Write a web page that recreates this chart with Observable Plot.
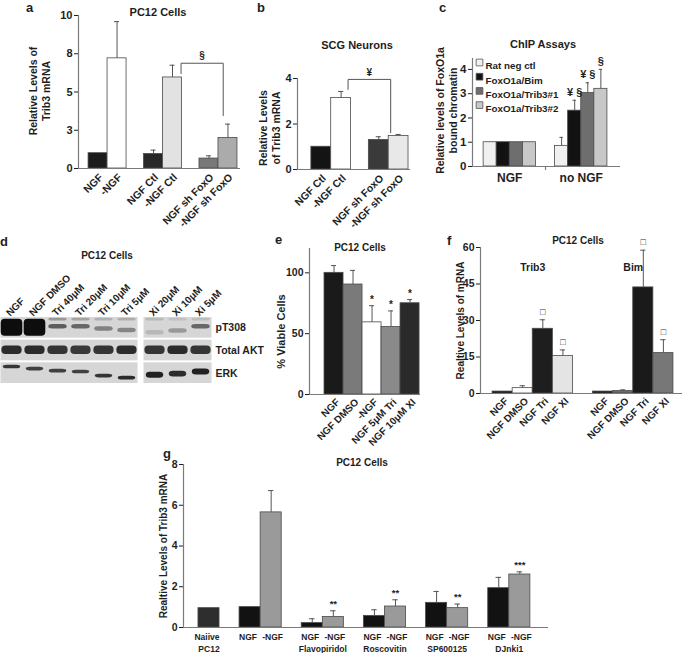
<!DOCTYPE html>
<html><head><meta charset="utf-8">
<script src="https://cdn.jsdelivr.net/npm/d3@7"></script>
<script src="https://cdn.jsdelivr.net/npm/@observablehq/plot@0.6"></script>
<style>
body{margin:0;background:#fff;}
#fig{position:relative;width:685px;height:653px;overflow:hidden;background:#fff;font-family:"Liberation Sans",Arial,sans-serif;font-weight:bold;color:#1e1e1e;}
.panel{position:absolute;}
.lab{position:absolute;white-space:nowrap;transform:translate(-50%,-50%);line-height:1;}
.letter{position:absolute;font-size:13px;line-height:normal;}
</style></head><body><div id="fig"></div>
<script>
// ---------- DATA ----------
// a
const aCategories = ["NGF","-NGF","NGF Ctl","-NGF Ctl","NGF sh FoxO","-NGF sh FoxO"];
const aGroups = [0,0,1,1,2,2];
const aValues = [1.0,7.2,0.95,5.95,0.65,2.0];
const aErrTop = [null,9.6,1.2,6.75,0.83,2.9];
const aTicks = [0,2.5,5,7.5,10];
const aColors = ["#1c1c1c","#ffffff","#282828","#e2e2e2","#787878","#ababab"];
// b
const bCategories = ["NGF Ctl","-NGF Ctl","NGF sh FoxO","-NGF sh FoxO"];
const bGroups = [0,0,1,1];
const bValues = [1.0,3.14,1.3,1.47];
const bErrTop = [null,3.43,1.44,1.54];
const bTicks = [0,2,4];
const bColors = ["#141414","#ffffff","#3a3a3a","#e8e8e8"];
// c
const cSeries = ["Rat neg ctl","FoxO1a/Bim","FoxO1a/Trib3#1","FoxO1a/Trib3#2"];
const cConditions = ["NGF","no NGF"];
const cValuesNGF = [1,1,1,1];
const cValuesNoNGF = [0.85,2.3,3.03,3.2];
const cErrTopNoNGF = [1.2,2.73,3.45,4.0];
const cNotesNoNGF = ["","¥ §","¥ §","§"];
const cTicks = [0,1,2,3,4];
const cColors = ["#f0f0f0","#121212","#6e6e6e","#c8c8c8"];
// d (western blot)
const dLanes = ["NGF","NGF DMSO","Tri 40μM","Tri 20μM","Tri 10μM","Tri 5μM","Xi 20μM","Xi 10μM","Xi 5μM"];
const dBlock = [0,0,0,0,0,0,1,1,1];
const dRows = ["pT308","Total AKT","ERK"];
const dPT308 = [1.0,1.0,0.6,0.55,0.42,0.4,0.15,0.3,0.55];
const dPT308Pos = [0.5,0.5,0.45,0.45,0.55,0.62,0.72,0.64,0.45];
const dPT308Upper = [0,0,0.3,0.25,0.18,0.2,0.14,0.1,0.12];
const dAKT = [0.85,0.85,0.8,0.78,0.8,0.85,0.8,0.85,0.8];
const dERK = [0.8,0.75,0.75,0.75,0.8,0.85,0.9,0.85,0.9];
const dERKPos = [0.23,0.32,0.41,0.45,0.63,0.72,0.59,0.54,0.45];
// e
const eCategories = ["NGF","NGF DMSO","-NGF","NGF 5μM Tri","NGF 10μM XI"];
const eValues = [100,90.4,59.3,55.5,75];
const eErrTop = [106,102,73,68.7,78];
const eNotes = ["","","*","*","*"];
const eTicks = [0,50,100];
const eColors = ["#1a1a1a","#7a7a7a","#ffffff","#8a8a8a","#2a2a2a"];
// f
const fGenes = ["Trib3","Bim"];
const fCategories = ["NGF","NGF DMSO","NGF Tri","NGF XI"];
const fTrib3 = [0.8,2.2,26.6,15.4];
const fTrib3Err = [null,3.2,30.3,17.9];
const fBim = [0.8,1.0,43.6,16.6];
const fBimErr = [null,1.5,58.9,22.1];
const fNotes = ["","","□","□"];
const fTicks = [0,15,30,45,60];
const fColorsTrib3 = ["#151515","#ffffff","#1e1e1e","#e4e4e4"];
const fColorsBim = ["#151515","#6a6a6a","#1a1a1a","#777777"];
// g
const gConditions = ["Naiive","NGF","-NGF","NGF","-NGF","NGF","-NGF","NGF","-NGF","NGF","-NGF"];
const gGroupIndex = [0,1,1,2,2,3,3,4,4,5,5];
const gGroupNames = ["PC12","","Flavopiridol","Roscovitin","SP600125","DJnki1"];
const gValues = [0.95,1.0,5.65,0.22,0.52,0.57,1.03,1.21,0.95,1.93,2.6];
const gErrTop = [null,null,6.72,0.43,0.82,0.87,1.36,1.77,1.15,2.46,2.73];
const gNotes = ["","","","","**","","**","","**","","***"];
const gTicks = [0,2,4,6,8];
const gColors = ["#2e2e2e","#121212","#9a9a9a","#121212","#9a9a9a","#121212","#9a9a9a","#121212","#9a9a9a","#121212","#9a9a9a"];

// ---------- HELPERS ----------
const fig = document.getElementById("fig");
const baseStyle = {fontFamily:'"Liberation Sans", Arial, sans-serif', fontWeight:"bold", fontSize:"11px", color:"#1e1e1e", background:"transparent", overflow:"visible"};
function place(node, left, top){ const d=document.createElement("div"); d.className="panel"; d.style.left=left+"px"; d.style.top=top+"px"; d.appendChild(node); fig.appendChild(d); }
function label(text,x,y,size){ const d=document.createElement("div"); d.className="lab"; d.textContent=text; d.style.left=x+"px"; d.style.top=y+"px"; d.style.fontSize=size+"px"; fig.appendChild(d); }
function letter(t,x,y){ const d=document.createElement("div"); d.className="letter"; d.textContent=t; d.style.left=x+"px"; d.style.top=y+"px"; fig.appendChild(d); }

function barChart(o){
  const nG = Math.max(...o.groups)+1;
  const rows = o.categories.map((c,i)=>{ const x1=o.leftPad+i+o.groups[i]*o.gap; return {label:c,x1,x2:x1+1,xc:x1+0.5,value:o.values[i],err:o.errs?o.errs[i]:null,note:o.notes?o.notes[i]:null,fill:o.fills[i],group:o.groups[i]}; });
  const xMax = o.leftPad+rows.length+(nG-1)*o.gap+o.rightPad;
  const errRows = rows.filter(d=>d.err!=null);
  const noteRows = rows.filter(d=>d.note);
  const marks = [
    Plot.rect(rows,{x1:"x1",x2:"x2",y1:()=>0,y2:"value",fill:"fill",stroke:"#4a4a4a",strokeWidth:0.8}),
    Plot.ruleX(errRows,{x:"xc",y1:"value",y2:"err",stroke:"#555",strokeWidth:1}),
    Plot.ruleY(errRows,{x1:d=>d.xc-0.13,x2:d=>d.xc+0.13,y:"err",stroke:"#555",strokeWidth:1}),
    Plot.text(noteRows,{x:"xc",y:d=>d.err??d.value,text:"note",dy:o.noteDy??-6,fontSize:o.noteSize??10}),
    Plot.ruleX([0],{stroke:"#7a7a7a",strokeWidth:1.2}),
    Plot.ruleY([0],{stroke:"#7a7a7a",strokeWidth:1.2}),
    Plot.text([o.yLabel],{frameAnchor:"left",textAnchor:"middle",rotate:-90,dx:o.yLabelDx,dy:o.yLabelDy||0,fontSize:o.yLabelSize||10.5,lineHeight:1.2})
  ];
  if(o.rotateLabels) marks.push(Plot.text(rows,{x:"xc",y:()=>0,text:"label",rotate:-45,textAnchor:"end",dx:o.labelDx??3,dy:o.labelDy??7,fontSize:o.labelSize||10.5}));
  if(o.extra) marks.push(...o.extra(rows,xMax));
  const svg = Plot.plot({
    width:o.width,height:o.height,marginLeft:o.m[0],marginRight:o.m[1],marginTop:o.m[2],marginBottom:o.m[3],
    x:{domain:[0,xMax],axis:null},
    y:{domain:o.yDomain,ticks:o.yTicks,tickFormat:o.tickFormat||(d=>d),tickSize:4,tickPadding:2,label:null},
    color:{type:"identity"},
    style:Object.assign({},baseStyle,{fontSize:(o.tickSize||11)+"px"}),
    marks
  });
  place(svg,o.left,o.top);
}
function bracket(rows,br){
  const xl=rows[br.from].xc+br.fromOff, xr=rows[br.to].xc+br.toOff;
  const pts=[[xl,br.leftEnd],[xl,br.top],[xr,br.top],[xr,br.rightEnd]];
  return [Plot.line(pts,{stroke:"#555",strokeWidth:1}), Plot.text([br.symbol],{x:()=>(xl+xr)/2,y:()=>br.top,dy:-7,fontSize:10})];
}

// ---------- PANEL A ----------
barChart({left:0,top:0,width:245,height:235,m:[78,5,15,67],
  categories:aCategories,groups:aGroups,values:aValues,errs:aErrTop,fills:aColors,
  leftPad:0.53,gap:0.92,rightPad:0.16,yDomain:[0,10],yTicks:aTicks,tickFormat:d=>Math.round(d),
  yLabel:"Relative Levels of\nTrib3 mRNA",yLabelDx:-39,yLabelDy:-1,rotateLabels:true,
  extra:(rows)=>bracket(rows,{from:3,to:5,fromOff:0.45,toOff:-0.25,top:6.88,leftEnd:6.2,rightEnd:3.46,symbol:"§"})});

// ---------- PANEL B ----------
barChart({left:225,top:0,width:190,height:235,m:[72,5,78,66],
  categories:bCategories,groups:bGroups,values:bValues,errs:bErrTop,fills:bColors,
  leftPad:0.7,gap:0.9,rightPad:0.1,yDomain:[0,4],yTicks:bTicks,
  yLabel:"Relative Levels\nof Trib3 mRNA",yLabelDx:-28,yLabelDy:4,rotateLabels:true,
  extra:(rows)=>bracket(rows,{from:1,to:3,fromOff:0.35,toOff:-0.4,top:3.96,leftEnd:3.52,rightEnd:1.62,symbol:"¥"})});

// ---------- PANEL C ----------
{
  const cats=[...cSeries,...cSeries];
  const groups=[0,0,0,0,1,1,1,1];
  barChart({left:440,top:0,width:245,height:235,m:[32,65,58,69],
    categories:cats,groups,values:[...cValuesNGF,...cValuesNoNGF],errs:[null,null,null,null,...cErrTopNoNGF],
    notes:["","","","",...cNotesNoNGF],noteSize:11,noteDy:-8,fills:[...cColors,...cColors],
    leftPad:0.85,gap:1.46,rightPad:1.0,yDomain:[0,4.45],yTicks:cTicks,tickSize:11.5,
    yLabel:"Relative levels of FoxO1a\nbound chromatin",yLabelDx:-26,yLabelDy:-2,
    extra:(rows)=>{
      const g=cConditions.map((name,gi)=>{const r=rows.filter(d=>d.group===gi); return {name,xc:d3.mean(r,d=>d.xc)};});
      const gapX=(rows[3].x2+rows[4].x1)/2;
      const ms=[
        Plot.text(g,{x:"xc",y:()=>0,text:"name",dy:12,fontSize:12}),
        Plot.ruleX([gapX],{y1:()=>0,y2:()=>-0.16,stroke:"#7a7a7a",strokeWidth:1.2})
      ];
      cSeries.forEach((s,i)=>{
        ms.push(Plot.dot([s],{frameAnchor:"top-left",dx:7,dy:4+14.2*i,symbol:"square",r:3.8,fill:cColors[i],stroke:"#555",strokeWidth:0.8}));
        ms.push(Plot.text([s],{frameAnchor:"top-left",dx:13,dy:4+14.2*i,text:d=>d,textAnchor:"start",fontSize:9.8}));
      });
      return ms;
    }});
}

// ---------- PANEL D (blot) ----------
{
  const gap=0.22;
  const lanes=dLanes.map((name,i)=>{const x1=i+dBlock[i]*gap; return {name,i,x1,xc:x1+0.5};});
  const xMax=dLanes.length+gap;
  const blocks=[0,1].map(b=>{const ls=lanes.filter(l=>dBlock[l.i]===b); return {x1:ls[0].x1,x2:ls[ls.length-1].x1+1};});
  const bg=[]; blocks.forEach(b=>dRows.forEach((r,ri)=>bg.push({x1:b.x1+0.02,x2:b.x2-0.02,y1:ri+0.045,y2:ri+0.955})));
  const bands=[];
  lanes.forEach((l,i)=>{
    const v=dPT308[i], h=0.2+0.55*Math.max(0,v-0.7)/0.3, w=v>0.9?0.47:0.4;
    bands.push({x1:l.xc-w,x2:l.xc+w,y1:dPT308Pos[i]-h/2,y2:dPT308Pos[i]+h/2,o:v});
    if(dPT308Upper[i]>0) bands.push({x1:l.xc-0.4,x2:l.xc+0.4,y1:0.08,y2:0.2,o:dPT308Upper[i]});
    bands.push({x1:l.xc-0.44,x2:l.xc+0.44,y1:1.3,y2:1.68,o:dAKT[i]});
    const eh=dBlock[i]?0.26:0.16;
    bands.push({x1:l.xc-0.38,x2:l.xc+0.38,y1:2+dERKPos[i]-eh/2,y2:2+dERKPos[i]+eh/2,o:dERK[i]});
  });
  const svg=Plot.plot({width:275,height:220,marginLeft:0,marginRight:63,marginTop:91,marginBottom:61,
    x:{domain:[0,xMax],axis:null},y:{domain:[3,0],axis:null},opacity:{type:"identity"},
    style:Object.assign({},baseStyle),
    marks:[
      Plot.rect(bg,{x1:"x1",x2:"x2",y1:"y1",y2:"y2",fill:"#d6d6d6"}),
      Plot.rect(bands,{x1:"x1",x2:"x2",y1:"y1",y2:"y2",fill:"#0d0d0d",fillOpacity:"o",rx:4,ariaLabel:"bands"}),
      Plot.text(lanes,{x:"xc",y:()=>0,text:"name",rotate:-45,textAnchor:"start",dx:-4,dy:-2,fontSize:10}),
      Plot.text(dRows,{x:()=>xMax,y:(d,i)=>i+0.5,text:d=>d,textAnchor:"start",dx:3,fontSize:10.5})
    ]});
  d3.select(svg).selectAll('g[aria-label="bands"]').style("filter","blur(1.3px)");
  place(svg,0,225);
}

// ---------- PANEL E ----------
barChart({left:230,top:225,width:200,height:220,m:[79,10,23,51],
  categories:eCategories,groups:[0,0,0,0,0],values:eValues,errs:eErrTop,notes:eNotes,fills:eColors,
  leftPad:0.79,gap:0,rightPad:0.05,yDomain:[0,120],yTicks:eTicks,tickSize:10.5,
  yLabel:"% Viable Cells",yLabelDx:-29,yLabelDy:10,yLabelSize:11,rotateLabels:true,labelSize:10,labelDx:4,labelDy:6});

// ---------- PANEL F ----------
barChart({left:455,top:225,width:230,height:220,m:[25,3,22,52],
  categories:[...fCategories,...fCategories],groups:[0,0,0,0,1,1,1,1],values:[...fTrib3,...fBim],errs:[...fTrib3Err,...fBimErr],
  notes:[...fNotes,...fNotes],noteSize:9,noteDy:-8,fills:[...fColorsTrib3,...fColorsBim],
  leftPad:0.6,gap:1.0,rightPad:0.45,yDomain:[0,60],yTicks:fTicks,tickSize:10.5,
  yLabel:"Realtive Levels of mRNA",yLabelDx:-20,yLabelSize:10,rotateLabels:true,labelSize:10,labelDx:4,labelDy:6,
  extra:(rows)=>{const g=fGenes.map((name,gi)=>{const r=rows.filter(d=>d.group===gi); return {name,xc:d3.mean(r,d=>d.xc)};});
    return [Plot.text(g,{x:"xc",text:"name",frameAnchor:"top",dy:16,fontSize:10.5})];}});

// ---------- PANEL G ----------
barChart({left:160,top:440,width:400,height:213,m:[23,12,24,26],
  categories:gConditions,groups:gGroupIndex,values:gValues,errs:gErrTop,notes:gNotes,noteSize:9.5,noteDy:-7,fills:gColors,
  leftPad:0.71,gap:0.95,rightPad:0.86,yDomain:[0,8],yTicks:gTicks,tickSize:10.5,
  yLabel:"Realtive Levels of Trib3 mRNA",yLabelDx:-20,yLabelSize:10,
  extra:(rows)=>{
    const g=gGroupNames.map((name,gi)=>{const r=rows.filter(d=>d.group===gi); return {name,xc:d3.mean(r,d=>d.xc)};}).filter(d=>d.name);
    return [Plot.text(rows.filter(d=>!d.label.startsWith("-")),{x:"xc",y:()=>0,text:"label",dy:9.5,dx:-2,fontSize:8.5}),
            Plot.text(rows.filter(d=>d.label.startsWith("-")),{x:"xc",y:()=>0,text:"label",dy:9.5,dx:1.5,fontSize:8.5}),
            Plot.text(g,{x:"xc",y:()=>0,text:"name",dy:22,fontSize:8.5})];
  }});

// ---------- TITLES & LETTERS ----------
label("PC12 Cells",158,12,11);
label("SCG Neurons",357,45,11);
label("ChIP Assays",543,44,11);
label("PC12 Cells",107,256,10);
label("PC12 Cells",360,248,10);
label("PC12 Cells",578,241,10);
label("PC12 Cells",362,463,10);
letter("a",26,0); letter("b",257,0); letter("c",439,0);
letter("d",0,234); letter("e",275,232); letter("f",447,233); letter("g",163,446);
</script></body></html>
